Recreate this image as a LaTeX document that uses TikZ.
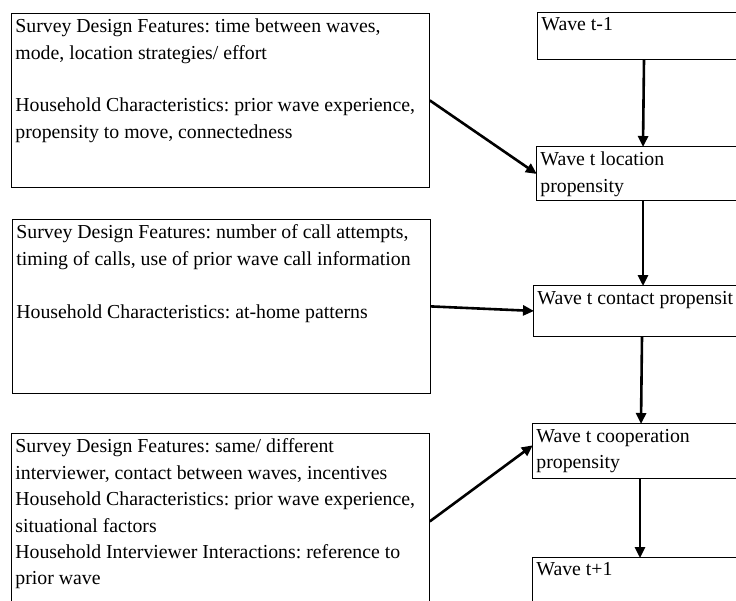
\documentclass[tikz,border=0pt]{standalone}
\usepackage{fontspec}
\setmainfont{Liberation Serif}
\usetikzlibrary{positioning,arrows.meta}
\newcommand{\topbox}[3]{\parbox[c][#1][t]{#2}{\raggedright\frenchspacing\vspace*{1.5pt}#3}}
\tikzset{
	factor box/.style={
		rectangle,
		draw,
		line width=0.8pt,
		anchor=north west,
		inner sep=4pt,
		font=\fontsize{19.8}{26.4}\selectfont
	},
	wave box/.style={
		factor box
	},
	flow/.style={
		line width=2.6pt,
		-{Triangle[length=11pt,width=10pt]},
		shorten >=-1pt
	}
}

\begin{document}
\begin{tikzpicture}[x=1pt,y=-1pt]
	\useasboundingbox (0,0) rectangle (736,600);
	\clip (0,0) rectangle (736,600);
	% left column: what drives each propensity
	\node[factor box] (design1) at (11,13)
		{\topbox{166pt}{410pt}{Survey Design Features: time between waves,\\
		mode, location strategies/ effort\\[26.4pt]
		Household Characteristics: prior wave experience,\\
		propensity to move, connectedness}};
	\node[factor box] (design2) at (12,219)
		{\topbox{166pt}{410pt}{Survey Design Features: number of call attempts,\\
		timing of calls, use of prior wave call information\\[26.4pt]
		Household Characteristics: at-home patterns}};
	\node[factor box] (design3) at (11,433)
		{\topbox{168pt}{410pt}{Survey Design Features: same/ different\\
		interviewer, contact between waves, incentives\\
		Household Characteristics: prior wave experience,\\
		situational factors\\
		Household Interviewer Interactions: reference to\\
		prior wave}};
	% right column: the waves
	\node[wave box] (wavePrev) at (537,12) {\topbox{39pt}{252pt}{Wave t-1}};
	\node[wave box] (location) at (536,146)
		{\topbox{46pt}{252pt}{Wave t location\\ propensity}};
	\node[wave box] (contact) at (533,285)
		{\topbox{43pt}{252pt}{Wave t contact propensit}};
	\node[wave box] (cooperation) at (532,423)
		{\topbox{47pt}{252pt}{Wave t cooperation\\ propensity}};
	\node[wave box] (waveNext) at (532,557) {\topbox{52pt}{252pt}{Wave t+1}};
	% arrows
	\draw[flow] ([xshift=107pt]wavePrev.south west) -- ([xshift=107pt]location.north west);
	\draw[flow] ([xshift=107pt]location.south west) -- ([xshift=110pt]contact.north west);
	\draw[flow] ([xshift=109pt]contact.south west) -- ([xshift=109pt]cooperation.north west);
	\draw[flow] ([xshift=108pt]cooperation.south west) -- ([xshift=108pt]waveNext.north west);
	\draw[flow] (design1.east) -- (location.west);
	\draw[flow] (design2.east) -- (contact.west);
	\draw[flow] (design3.east) -- ([yshift=5pt]cooperation.west);
\end{tikzpicture}
\end{document}
